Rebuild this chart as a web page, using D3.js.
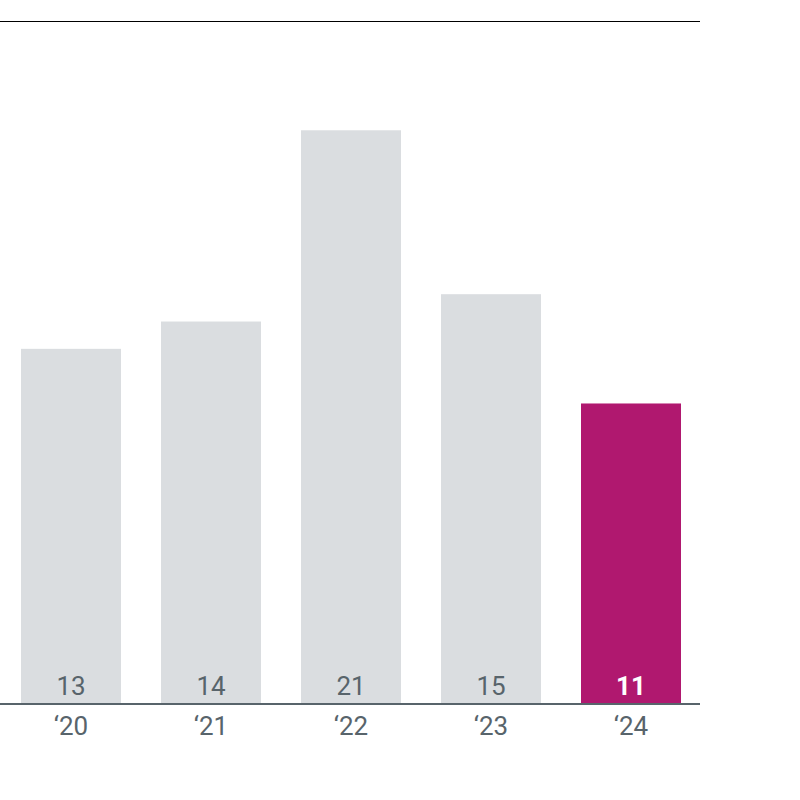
<!DOCTYPE html>
<html><head><meta charset="utf-8">
<script src="https://cdn.jsdelivr.net/npm/d3@7"></script>
<style>body{margin:0;background:#fff}svg{display:block}text{font-family:Roboto,sans-serif}</style>
</head><body><svg id="c" width="800" height="800"></svg>
<script>
const categories = ["‘20","‘21","‘22","‘23","‘24"];
const values = [13,14,21,15,11];
const highlight = [false,false,false,false,true];

const svg = d3.select("#c");
const x = d3.scaleBand().domain(categories).range([1,701]).paddingInner(2/7).paddingOuter(1/7);
const y = d3.scaleLinear().domain([0,25]).range([704,21]);

svg.append("line").attr("x1",0).attr("x2",700).attr("y1",21.5).attr("y2",21.5).attr("stroke","#000").attr("stroke-width",1);

svg.selectAll("rect.bar").data(values).join("rect")
  .attr("x",(d,i)=>x(categories[i])).attr("width",x.bandwidth())
  .attr("y",d=>y(d)).attr("height",d=>y(0)-y(d))
  .attr("fill",(d,i)=>highlight[i]?"#b0186f":"#dadde0");

svg.selectAll("text.val").data(values).join("text")
  .attr("x",(d,i)=>x(categories[i])+x.bandwidth()/2).attr("y",695)
  .attr("text-anchor","middle").attr("font-size",26)
  .attr("font-weight",(d,i)=>highlight[i]?"bold":"normal")
  .attr("fill",(d,i)=>highlight[i]?"#fff":"#58646b")
  .text(d=>d);

const ax = svg.append("g").attr("transform","translate(0,704)").call(d3.axisBottom(x).tickSize(0).tickPadding(0));
ax.select(".domain").attr("stroke","#58646b").attr("stroke-width",2).attr("d","M0,0H700");
ax.selectAll("text").attr("font-size",26).attr("fill","#58646b").attr("dy",null).attr("y",31).attr("font-family","Roboto,sans-serif");
</script></body></html>
